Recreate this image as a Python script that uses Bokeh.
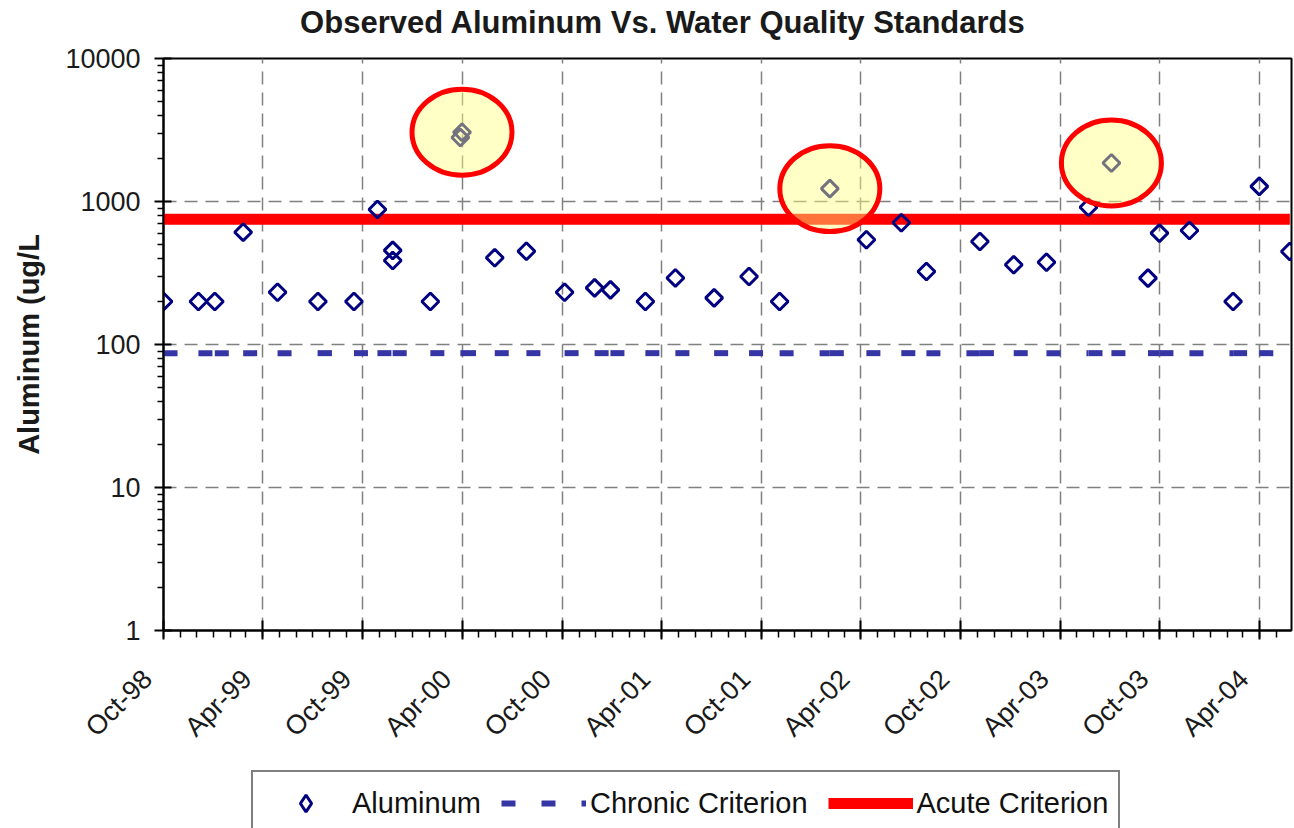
import math
import numpy as np
import pandas as pd
from bokeh.plotting import figure
from bokeh.layouts import column
from bokeh.models import (Range1d, FixedTicker, Legend, LegendItem,
                          DatetimeTickFormatter, Label)
from bokeh.embed import file_html
from bokeh.resources import INLINE

# ---------------- data ----------------
sample_dates = [
    "1998-10-01", "1998-12-04", "1999-01-03", "1999-02-24", "1999-04-28",
    "1999-07-11", "1999-09-15", "1999-10-28", "1999-11-25", "1999-11-25",
    "2000-02-02", "2000-03-28", "2000-03-31", "2000-05-30", "2000-07-27",
    "2000-10-05", "2000-11-29", "2000-12-28", "2001-03-02", "2001-04-26",
    "2001-07-06", "2001-09-08", "2001-11-03", "2002-02-03", "2002-04-11",
    "2002-06-14", "2002-07-30", "2002-11-05", "2003-01-06", "2003-03-07",
    "2003-05-23", "2003-07-04", "2003-09-09", "2003-09-30", "2003-11-24",
    "2004-02-12", "2004-03-31", "2004-05-26",
]
aluminum = [
    200, 200, 200, 610, 232,
    200, 200, 880, 455, 387,
    200, 2800, 3050, 404, 449,
    232, 249, 241, 200, 292,
    212, 299, 200, 1230, 540,
    710, 324, 525, 361, 376,
    912, 1860, 291, 601, 627,
    200, 1275, 447,
]
chronic_criterion = 87
acute_criterion = 750
highlighted = [12, 23, 31]  # circled exceedances

title_text = "Observed Aluminum Vs. Water Quality Standards"
y_title = "Aluminum (ug/L"
x_tick_labels = ["Oct-98", "Apr-99", "Oct-99", "Apr-00", "Oct-00", "Apr-01",
                 "Oct-01", "Apr-02", "Oct-02", "Apr-03", "Oct-03", "Apr-04"]
y_tick_values = [1, 10, 100, 1000, 10000]
y_tick_labels = ["1", "10", "100", "1000", "10000"]
series_names = ["Aluminum", "Chronic Criterion", "Acute Criterion"]

# ---------------- derived ----------------
dates = pd.to_datetime(sample_dates)
n = len(dates)
chronic_vals = np.full(n, chronic_criterion, dtype=float)
acute_vals = np.full(n, acute_criterion, dtype=float)

def to_ms(ts):
    return int(pd.Timestamp(ts).value // 10**6)

major_dates = pd.date_range("1998-10-01", periods=len(x_tick_labels), freq="6MS")
minor_dates = pd.date_range("1998-10-01", "2004-05-01", freq="MS")
major_ms = [to_ms(d) for d in major_dates]
minor_ms = [to_ms(d) for d in minor_dates]
y_minor = [m * d for d in [1, 10, 100, 1000] for m in range(2, 10)]

FONT = "Liberation Sans"
PAD = "\u00a0\u00a0\u00a0"

point_style = dict(marker="square", angle=math.pi / 4, size=12,
                   line_color="#000080", line_width=3, fill_color=None)
legend_point_style = dict(marker="diamond", size=19,
                          line_color="#000080", line_width=3, fill_color=None)
chronic_style = dict(line_color="#3535A5", line_width=6, line_dash="14 26")
acute_style = dict(line_color="#FF0000", line_width=11)

def strip(height):
    f = figure(width=1294, height=height, output_backend="svg", toolbar_location=None,
               x_range=Range1d(0, 1), y_range=Range1d(0, 1),
               x_axis_location=None, y_axis_location=None,
               min_border_left=0, min_border_right=0, min_border_top=0, min_border_bottom=0)
    f.grid.visible = False
    f.outline_line_color = None
    f.background_fill_color = "white"
    f.border_fill_color = "white"
    return f

# ---------------- title strip ----------------
tp = strip(40)
tp.add_layout(Label(x=499.5, y=18, x_units="screen", y_units="screen", text=title_text,
                    text_align="center", text_baseline="alphabetic",
                    text_font=FONT, text_font_size="31px", text_font_style="bold",
                    text_color="#1a1a1a"))

# ---------------- main chart ----------------
p = figure(width=1294, height=730,
           x_axis_type="datetime", y_axis_type="log",
           x_range=Range1d(pd.Timestamp("1998-10-01"), pd.Timestamp("2004-05-29")),
           y_range=Range1d(1, 10000),
           output_backend="svg", toolbar_location=None,
           min_border_left=163, min_border_right=3,
           min_border_top=18, min_border_bottom=140)

p.background_fill_color = "white"
p.border_fill_color = "white"
p.outline_line_color = "black"
p.outline_line_width = 2

xticker = FixedTicker(ticks=major_ms, minor_ticks=minor_ms)
yticker = FixedTicker(ticks=y_tick_values, minor_ticks=y_minor)
p.xaxis.ticker = xticker
p.yaxis.ticker = yticker
p.xgrid.ticker = xticker
p.ygrid.ticker = yticker
p.xaxis.formatter = DatetimeTickFormatter(days="%b-%y", months="%b-%y", years="%b-%y")
p.xaxis.major_label_overrides = {ms: lab + PAD for ms, lab in zip(major_ms, x_tick_labels)}
p.yaxis.major_label_overrides = {v: lab for v, lab in zip(y_tick_values, y_tick_labels)}

for ax in (p.xaxis, p.yaxis):
    ax.axis_line_color = "black"
    ax.axis_line_width = 2
    ax.major_tick_line_color = "black"
    ax.major_tick_line_width = 2
    ax.minor_tick_line_color = "black"
    ax.minor_tick_line_width = 1.5
    ax.major_label_text_font = FONT
    ax.major_label_text_font_size = "27px"
    ax.major_label_text_color = "#1a1a1a"

p.yaxis.major_tick_in = 8
p.yaxis.major_tick_out = 9
p.yaxis.minor_tick_in = 0
p.yaxis.minor_tick_out = 6
p.yaxis.major_label_standoff = 14
p.yaxis.axis_label = y_title
p.yaxis.axis_label_text_font = FONT
p.yaxis.axis_label_text_font_size = "29px"
p.yaxis.axis_label_text_font_style = "bold"
p.yaxis.axis_label_text_color = "#1a1a1a"
p.yaxis.axis_label_standoff = 17

p.xaxis.major_tick_in = 10
p.xaxis.major_tick_out = 9
p.xaxis.minor_tick_in = 0
p.xaxis.minor_tick_out = 7
p.xaxis.major_label_orientation = math.pi / 4
p.xaxis.major_label_standoff = 19

p.grid.grid_line_color = "#808080"
p.grid.grid_line_width = 1.5
p.grid.grid_line_dash = "13 8"

p.segment(x0=dates[:-1], y0=chronic_vals[:-1], x1=dates[1:], y1=chronic_vals[1:], **chronic_style)
p.line(dates, acute_vals, **acute_style)
p.scatter(dates, aluminum, **point_style)

hl_dates = dates[highlighted]
hl_vals = [aluminum[i] for i in highlighted]
p.ellipse(x=hl_dates, y=hl_vals, width=100, height=86,
          width_units="screen", height_units="screen",
          fill_color="#FFFF80", fill_alpha=0.45, line_color="#FF0000", line_width=5)

# ---------------- legend strip ----------------
lp = strip(58)
# same series drawn in the strip (out of its view) so the legend has real glyphs
leg_pts = lp.scatter(dates, aluminum, **legend_point_style)
leg_chr = lp.segment(x0=dates[:-1], y0=chronic_vals[:-1], x1=dates[1:], y1=chronic_vals[1:],
                     **chronic_style)
leg_acu = lp.line(dates, acute_vals, **acute_style)

legend = Legend(items=[
    LegendItem(label=series_names[0], renderers=[leg_pts]),
    LegendItem(label=series_names[1], renderers=[leg_chr]),
    LegendItem(label=series_names[2], renderers=[leg_acu]),
], orientation="horizontal", location=(88, -8),
    glyph_width=85, glyph_height=42, label_height=34, label_standoff=4,
    spacing=20, padding=10, margin=0,
    border_line_color="black", border_line_width=2,
    background_fill_color="white", background_fill_alpha=1.0,
    label_text_font=FONT, label_text_font_size="29px", label_text_color="#111111")
lp.add_layout(legend)

layout = column(tp, p, lp, spacing=0)
open("out.html", "w").write(file_html(layout, INLINE))
